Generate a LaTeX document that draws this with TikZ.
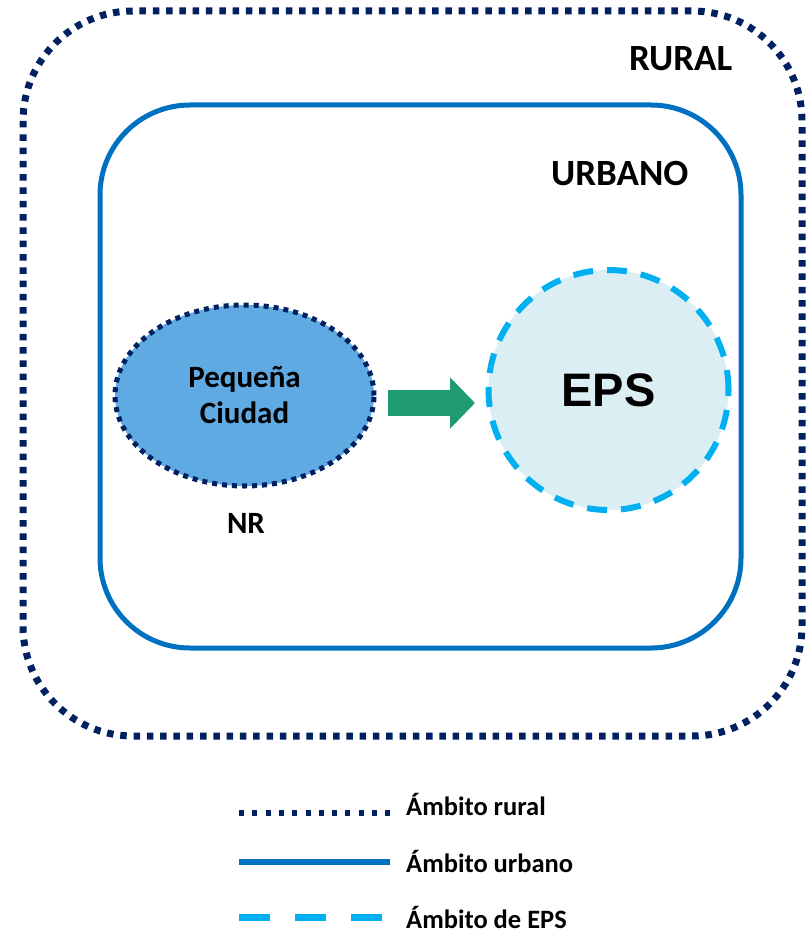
\documentclass[tikz,border=0pt]{standalone}
\usepackage{fontspec}
\setmainfont{Carlito}
\newfontfamily\arialfont{Liberation Sans}
\usetikzlibrary{arrows.meta,shapes.geometric}
\definecolor{ruralblue}{RGB}{0,32,96}
\definecolor{urbanblue}{RGB}{0,112,192}
\definecolor{epsblue}{RGB}{0,176,240}
\definecolor{epsfill}{RGB}{218,238,243}
\definecolor{cityfill}{RGB}{95,170,226}
\definecolor{arrowgreen}{RGB}{31,154,115}
\tikzset{
  ruralline/.style={draw=ruralblue, line width=7pt, dash pattern=on 6.5pt off 6.8pt},
  urbanline/.style={draw=urbanblue, line width=5pt},
  epsline/.style={draw=epsblue, line width=6pt, dash pattern=on 20pt off 14pt},
  textlabel/.style={font=\bfseries\fontsize{31}{36}\selectfont, inner sep=0pt},
  arealabel/.style={font=\bfseries\fontsize{37}{40}\selectfont, inner sep=0pt, anchor=base west},
  legendtext/.style={font=\bfseries\fontsize{26.5}{30}\selectfont, inner sep=0pt, anchor=base west}
}

\begin{document}
\begin{tikzpicture}[x=1pt, y=-1pt]
  \useasboundingbox (0,0) rectangle (809,933);
  % areas
  \draw[ruralline, rounded corners=110pt] (23,11) rectangle (802,736);
  \draw[urbanline, rounded corners=90pt] (100,105) rectangle (741,648);
  \node[arealabel] (rural) at (629,71) {RURAL};
  \node[arealabel] (urbano) at (551,186) {URBANO};

  % city and EPS
  \node[draw=ruralblue, fill=cityfill, ellipse, line width=5pt, dash pattern=on 5pt off 5pt,
        minimum width=259pt, minimum height=181pt, inner sep=0pt, textlabel, align=center] (city) at (244.5,395.5) {Pequeña\\Ciudad};
  \node[textlabel, anchor=base] (nr) at (246,533) {NR};
  \node[circle, fill=epsfill, epsline, minimum size=240pt, inner sep=0pt,
        font=\arialfont\bfseries\fontsize{47}{50}\selectfont] (eps) at (608.5,390) {\raisebox{-7pt}{EPS}};
  \coordinate (a1) at (388,403);
  \coordinate (a2) at (475,403);
  \draw[arrowgreen, line width=26pt, -{Triangle[length=25pt, width=50pt]}] (a1) -- (a2);

  % legend
  \draw[ruralline, line width=5.5pt, dash pattern=on 5pt off 8.3pt] (239,813) -- (390,813);
  \draw[urbanline, line width=5.5pt] (239,862) -- (390,862);
  \draw[epsline, line width=7pt, dash pattern=on 31pt off 25pt] (239,917) -- (383,917);
  \node[legendtext] (lrural) at (406,815) {Ámbito rural};
  \node[legendtext] (lurban) at (406,872) {Ámbito urbano};
  \node[legendtext] (leps) at (406,928) {Ámbito de EPS};
\end{tikzpicture}
\end{document}
